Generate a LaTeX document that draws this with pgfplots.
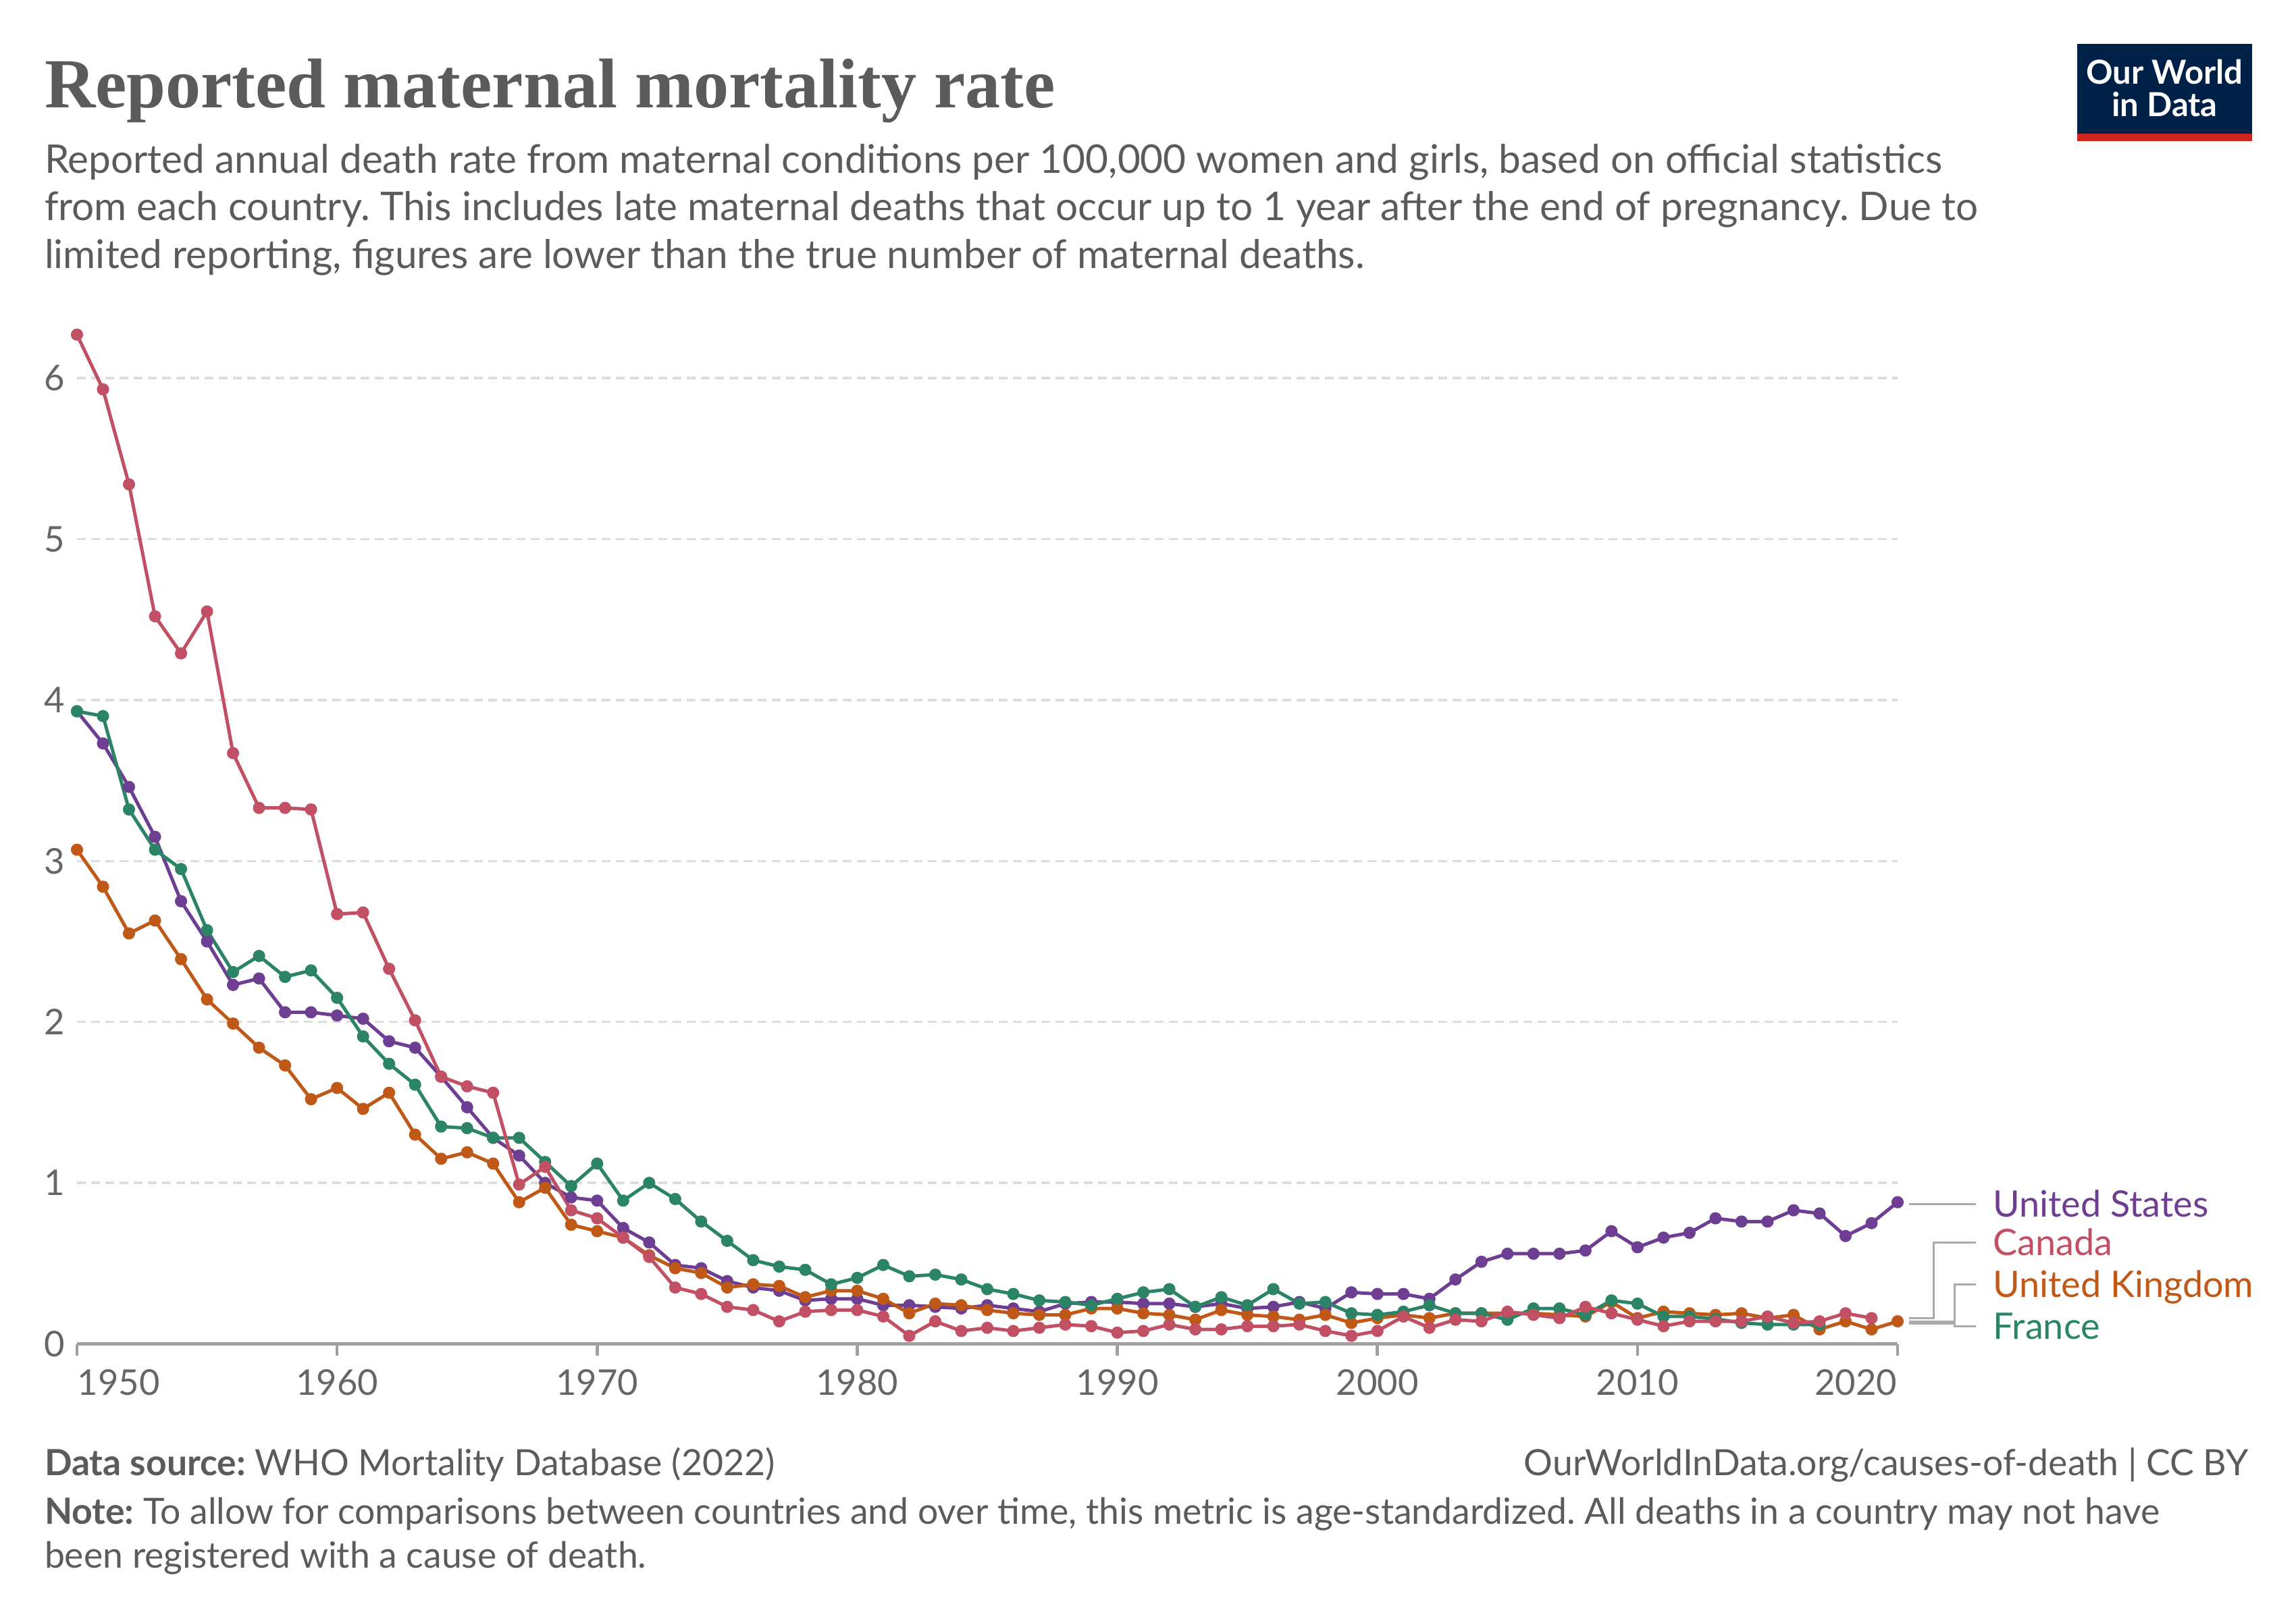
\documentclass[border=0pt]{standalone}
\usepackage{pgfplots}
\pgfplotsset{compat=1.18}
\usepackage{pgfplotstable}
\usepackage{fontspec}
\setmainfont{Lato}
\newfontfamily\titlefont{Liberation Serif}
\definecolor{uscol}{HTML}{6D3E91}
\definecolor{cacol}{HTML}{C15065}
\definecolor{ukcol}{HTML}{C05917}
\definecolor{frcol}{HTML}{2A8465}
\definecolor{titlegray}{HTML}{5B5B5B}
\definecolor{textgray}{HTML}{5B5B5B}
\definecolor{tickgray}{HTML}{666666}
\definecolor{axisgray}{HTML}{A0A0A0}
\definecolor{gridgray}{HTML}{DDDDDD}
\definecolor{conngray}{HTML}{AAAAAA}
\definecolor{owidblue}{HTML}{002147}
\definecolor{owidred}{HTML}{CE261E}

\pgfplotstableread{
year val
1950 3.93
1951 3.73
1952 3.46
1953 3.15
1954 2.75
1955 2.50
1956 2.23
1957 2.27
1958 2.06
1959 2.06
1960 2.04
1961 2.02
1962 1.88
1963 1.84
1964 1.66
1965 1.47
1966 1.28
1967 1.17
1968 1.00
1969 0.91
1970 0.89
1971 0.72
1972 0.63
1973 0.49
1974 0.47
1975 0.39
1976 0.35
1977 0.33
1978 0.27
1979 0.28
1980 0.28
1981 0.24
1982 0.24
1983 0.23
1984 0.22
1985 0.24
1986 0.22
1987 0.20
1988 0.25
1989 0.26
1990 0.26
1991 0.25
1992 0.25
1993 0.23
1994 0.25
1995 0.22
1996 0.23
1997 0.26
1998 0.22
1999 0.32
2000 0.31
2001 0.31
2002 0.28
2003 0.40
2004 0.51
2005 0.56
2006 0.56
2007 0.56
2008 0.58
2009 0.70
2010 0.60
2011 0.66
2012 0.69
2013 0.78
2014 0.76
2015 0.76
2016 0.83
2017 0.81
2018 0.67
2019 0.75
2020 0.88
}\usdata

\pgfplotstableread{
year val
1950 6.27
1951 5.93
1952 5.34
1953 4.52
1954 4.29
1955 4.55
1956 3.67
1957 3.33
1958 3.33
1959 3.32
1960 2.67
1961 2.68
1962 2.33
1963 2.01
1964 1.66
1965 1.60
1966 1.56
1967 0.99
1968 1.10
1969 0.83
1970 0.78
1971 0.66
1972 0.54
1973 0.35
1974 0.31
1975 0.23
1976 0.21
1977 0.14
1978 0.20
1979 0.21
1980 0.21
1981 0.17
1982 0.05
1983 0.14
1984 0.08
1985 0.10
1986 0.08
1987 0.10
1988 0.12
1989 0.11
1990 0.07
1991 0.08
1992 0.12
1993 0.09
1994 0.09
1995 0.11
1996 0.11
1997 0.12
1998 0.08
1999 0.05
2000 0.08
2001 0.17
2002 0.10
2003 0.15
2004 0.14
2005 0.20
2006 0.18
2007 0.16
2008 0.23
2009 0.19
2010 0.15
2011 0.11
2012 0.14
2013 0.14
2014 0.14
2015 0.17
2016 0.13
2017 0.14
2018 0.19
2019 0.16
}\cadata

\pgfplotstableread{
year val
1950 3.07
1951 2.84
1952 2.55
1953 2.63
1954 2.39
1955 2.14
1956 1.99
1957 1.84
1958 1.73
1959 1.52
1960 1.59
1961 1.46
1962 1.56
1963 1.30
1964 1.15
1965 1.19
1966 1.12
1967 0.88
1968 0.97
1969 0.74
1970 0.70
1971 0.66
1972 0.55
1973 0.47
1974 0.44
1975 0.35
1976 0.37
1977 0.36
1978 0.29
1979 0.33
1980 0.33
1981 0.28
1982 0.19
1983 0.25
1984 0.24
1985 0.21
1986 0.19
1987 0.18
1988 0.18
1989 0.22
1990 0.22
1991 0.19
1992 0.18
1993 0.15
1994 0.21
1995 0.18
1996 0.17
1997 0.15
1998 0.18
1999 0.13
2000 0.16
2001 0.18
2002 0.16
2003 0.19
2004 0.19
2005 0.19
2006 0.19
2007 0.18
2008 0.17
2009 0.26
2010 0.16
2011 0.20
2012 0.19
2013 0.18
2014 0.19
2015 0.16
2016 0.18
2017 0.09
2018 0.14
2019 0.09
2020 0.14
}\ukdata

\pgfplotstableread{
year val
1950 3.93
1951 3.90
1952 3.32
1953 3.07
1954 2.95
1955 2.57
1956 2.31
1957 2.41
1958 2.28
1959 2.32
1960 2.15
1961 1.91
1962 1.74
1963 1.61
1964 1.35
1965 1.34
1966 1.28
1967 1.28
1968 1.13
1969 0.98
1970 1.12
1971 0.89
1972 1.00
1973 0.90
1974 0.76
1975 0.64
1976 0.52
1977 0.48
1978 0.46
1979 0.37
1980 0.41
1981 0.49
1982 0.42
1983 0.43
1984 0.40
1985 0.34
1986 0.31
1987 0.27
1988 0.26
1989 0.24
1990 0.28
1991 0.32
1992 0.34
1993 0.23
1994 0.29
1995 0.24
1996 0.34
1997 0.25
1998 0.26
1999 0.19
2000 0.18
2001 0.20
2002 0.24
2003 0.19
2004 0.19
2005 0.15
2006 0.22
2007 0.22
2008 0.18
2009 0.27
2010 0.25
2011 0.17
2012 0.17
2013 0.155
2014 0.13
2015 0.12
2016 0.12
2017 0.12
}\frdata

\begin{document}
\frenchspacing
\begin{tikzpicture}
\path[use as bounding box] (0,0) rectangle (680pt,480pt);
% title and subtitle
\node[anchor=base west, inner sep=0pt, text=titlegray, font=\titlefont\bfseries\fontsize{20.85}{24}\selectfont] at (13pt,448pt) {Reported maternal mortality rate};
\begin{scope}[every node/.style={anchor=base west, inner sep=0pt, text=textgray, font=\fontsize{11.7}{14}\selectfont}]
\node at (13pt,428.6pt) {Reported annual death rate from maternal conditions per 100,000 women and girls, based on official statistics};
\node at (13pt,414.6pt) {from each country. This includes late maternal deaths that occur up to 1 year after the end of pregnancy. Due to};
\node at (13pt,400.4pt) {limited reporting, figures are lower than the true number of maternal deaths.};
\end{scope}
% logo
\fill[owidblue] (615.2pt,440.4pt) rectangle (667pt,467pt);
\fill[owidred] (615.2pt,438.2pt) rectangle (667pt,440.4pt);
\node[anchor=base, inner sep=0pt, text=white, font=\bfseries\fontsize{9.8}{10}\selectfont] at (641.1pt,455.1pt) {Our World};
\node[anchor=base, inner sep=0pt, text=white, font=\bfseries\fontsize{9.8}{10}\selectfont] at (641.1pt,445.4pt) {in Data};
% footer
\begin{scope}[every node/.style={inner sep=0pt, text=textgray, font=\fontsize{10.7}{12}\selectfont}]
\node[anchor=base west] at (13pt,43pt) {\textbf{Data source:} WHO Mortality Database (2022)};
\node[anchor=base east] at (666pt,43pt) {OurWorldInData.org/causes-of-death | CC BY};
\node[anchor=base west] at (13pt,28.6pt) {\textbf{Note:} To allow for comparisons between countries and over time, this metric is age-standardized. All deaths in a country may not have};
\node[anchor=base west] at (13pt,15.6pt) {been registered with a cause of death.};
\end{scope}

\begin{axis}[
  at={(22.8pt,81.9pt)}, anchor=south west,
  scale only axis, width=539.2pt, height=300.4pt,
  xmin=1950, xmax=2020, ymin=0, ymax=6.3,
  clip=false,
  axis lines*=left,
  x axis line style={-, draw=axisgray, line width=1.1pt},
  y axis line style={draw=none},
  xtick={1950,1960,...,2020},
  xticklabels={,1960,1970,1980,1990,2000,2010,},
  xtick style={draw=axisgray, line width=0.9pt},
  major tick length=3.5pt,
  tick align=outside,
  ytick={0,1,...,6},
  ytick style={draw=none},
  ymajorgrids,
  grid style={draw=gridgray, line width=0.7pt, dash pattern=on 2.6pt off 1.6pt},
  /pgf/number format/assume math mode=true,
  tick label style={font=\fontsize{10.5}{12}\selectfont, text=tickgray, inner sep=0pt},
  xticklabel style={anchor=north, yshift=-3.8pt},
  yticklabel style={anchor=east},
  every axis plot/.append style={line width=1.0pt, mark=*, mark size=1.3pt},
]
\addplot[uscol, mark options={fill=uscol, draw=uscol}] table[x=year, y=val] {\usdata};
\addplot[ukcol, mark options={fill=ukcol, draw=ukcol}] table[x=year, y=val] {\ukdata};
\addplot[frcol, mark options={fill=frcol, draw=frcol}] table[x=year, y=val] {\frdata};
\addplot[cacol, mark options={fill=cacol, draw=cacol}] table[x=year, y=val] {\cadata};

\node[anchor=north west, inner sep=0pt, font=\fontsize{10.5}{12}\selectfont, text=tickgray] at ([yshift=-7.3pt]axis cs:1950,0) {1950};
\node[anchor=north east, inner sep=0pt, font=\fontsize{10.5}{12}\selectfont, text=tickgray] at ([yshift=-7.3pt]axis cs:2020,0) {2020};

% connectors
\draw[conngray, line width=0.6pt] (axis cs:2020.45,0.87) -- (axis cs:2023.0,0.87);
\draw[conngray, line width=0.6pt] (axis cs:2020.45,0.16) -- (axis cs:2021.4,0.16) -- (axis cs:2021.4,0.63) -- (axis cs:2023.0,0.63);
\draw[conngray, line width=0.6pt] (axis cs:2020.45,0.14) -- (axis cs:2022.2,0.14) -- (axis cs:2022.2,0.37) -- (axis cs:2023.0,0.37);
\draw[conngray, line width=0.6pt] (axis cs:2020.45,0.125) -- (axis cs:2022.2,0.125) -- (axis cs:2022.2,0.11) -- (axis cs:2023.0,0.11);
\begin{scope}[every node/.style={anchor=base west, inner sep=0pt, yshift=-3.8pt, font=\fontsize{10.8}{13}\selectfont}]
\node[text=uscol] at (axis cs:2023.65,0.87) {United States};
\node[text=cacol] at (axis cs:2023.65,0.63) {Canada};
\node[text=ukcol] at (axis cs:2023.65,0.37) {United Kingdom};
\node[text=frcol] at (axis cs:2023.65,0.11) {France};
\end{scope}
\end{axis}
\end{tikzpicture}
\end{document}
